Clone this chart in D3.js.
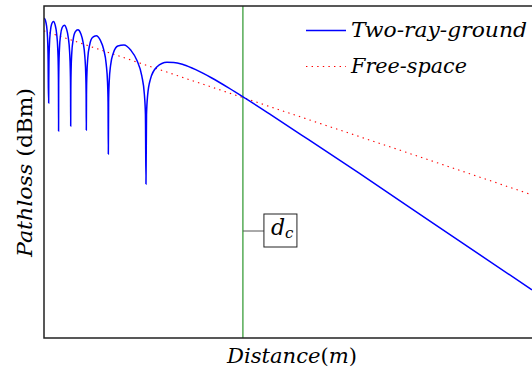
<!DOCTYPE html>
<meta charset="utf-8">
<style>
  body { margin: 0; padding: 0; background: #fff; }
  svg text { font-family: "DejaVu Serif", serif; }
  .it { font-style: italic; }
</style>
<body>
<script src="https://d3js.org/d3.v7.min.js"></script>
<script>

// distance (m) and received power (dBm)
var twoRayDist = [1, 1.00615, 1.0348, 1.0583, 1.0724, 1.0794, 1.0823, 1.09,
  1.0918, 1.0955, 1.1047, 1.1237, 1.1514, 1.1891, 1.2293, 1.2625, 1.2874, 1.3002, 1.3054, 1.308,
  1.3106, 1.3159, 1.3293, 1.3568, 1.3974, 1.4533, 1.5139, 1.5646, 1.6029, 1.6228, 1.6309, 1.635,
  1.6391, 1.6474, 1.6684, 1.712, 1.7772, 1.8686, 1.9699, 2.0566, 2.1234, 2.1584, 2.1728, 2.18,
  2.1873, 2.202, 2.2397, 2.3191, 2.4403, 2.616, 2.819, 3.0, 3.1442, 3.2217, 3.2537, 3.27,
  3.2864, 3.3198, 3.4063, 3.5934, 3.8929, 4.36, 4.9545, 5.5424, 6.0556, 6.3495, 6.4752, 6.54,
  6.606, 6.742, 7.109, 7.976, 9.618, 10.9, 13.08, 16.35, 21.8, 29.73, 40.88, 65.4, 130.8, 327, 1308, 8000];
var twoRayDbm = [-6.05, -6.03, -7.75, -11.89, -18.68, -27.17, -36.73, -46.7,
  -36.8, -27.3, -18.93, -12.41, -8.67, -7.48, -9.24, -13.42, -20.26, -28.79, -38.35, -60.2,
  -38.39, -28.89, -20.54, -14.05, -10.35, -9.23, -11.05, -15.29, -22.17, -30.71, -40.29, -57.8,
  -40.33, -30.84, -22.51, -16.07, -12.44, -11.41, -13.34, -17.66, -24.61, -33.19, -42.78, -59.8,
  -42.84, -33.36, -25.07, -18.7, -15.2, -14.33, -16.45, -20.94, -28.02, -36.67, -46.29, -71.3,
  -46.37, -36.93, -28.71, -22.51, -19.25, -18.77, -21.35, -26.27, -33.71, -42.56, -52.26, -85.8,
  -52.44, -43.09, -35.1, -29.43, -27.11, -27.17, -28.31, -30.69, -34.59, -39.35, -44.55, -52.49, -64.42, -80.31, -104.9, -136.8];

var freeDist = [1, 10, 100, 1000, 8000];
var freeDbm = [-12, -32.2, -52.4, -72.6, -91];

var crossDist = 39; // d_c
var legendNames = ["Two-ray-ground", "Free-space"];

var width = 532, height = 373;
var mLeft = 44, mTop = 6, mBottom = 338, mRight = 532;

var x = d3.scaleLog().domain([1, 8000]).range([mLeft, mRight]);
var y = d3.scaleLinear().domain([0, -160]).range([mTop, mBottom]);

var svg = d3.select("body").append("svg")
  .attr("width", width)
  .attr("height", height);

var line = d3.line()
  .x(function(d) { return x(d[0]); })
  .y(function(d) { return y(d[1]); })
  .curve(d3.curveMonotoneX);

var twoRay = twoRayDist.map(function(d, i) { return [d, twoRayDbm[i]]; });
var free = freeDist.map(function(d, i) { return [d, freeDbm[i]]; });

// d_c marker
svg.append("line")
  .attr("x1", x(crossDist)).attr("x2", x(crossDist))
  .attr("y1", mTop).attr("y2", mBottom)
  .attr("stroke", "#008000").attr("stroke-width", 1);

svg.append("path")
  .attr("d", line(free))
  .attr("fill", "none")
  .attr("stroke", "#ff0000")
  .attr("stroke-width", 1.1)
  .attr("stroke-dasharray", "1.4,4.2");

svg.append("path")
  .attr("d", line(twoRay))
  .attr("fill", "none")
  .attr("stroke", "#0000ff")
  .attr("stroke-width", 1.5);

// frame
svg.append("path")
  .attr("d", "M" + mRight + "," + mTop + "H" + mLeft + "V" + mBottom + "H" + mRight)
  .attr("fill", "none")
  .attr("stroke", "#222")
  .attr("stroke-width", 1.5);

// d_c label
var bx = x(crossDist) + 21, by = 214;
svg.append("line")
  .attr("x1", x(crossDist)).attr("x2", bx)
  .attr("y1", by + 17).attr("y2", by + 17)
  .attr("stroke", "#555").attr("stroke-width", 1);
svg.append("rect")
  .attr("x", bx).attr("y", by)
  .attr("width", 33).attr("height", 33)
  .attr("fill", "#fff").attr("stroke", "#222").attr("stroke-width", 1);
var dc = svg.append("text")
  .attr("x", bx + 7).attr("y", by + 21)
  .attr("class", "it")
  .style("font-size", "22px");
dc.append("tspan").text("d");
dc.append("tspan").attr("dy", 3).style("font-size", "15px").text("c");

// legend
var legY = [30.5, 66.5];
legendNames.forEach(function(name, i) {
  svg.append("line")
    .attr("x1", 306).attr("x2", 346)
    .attr("y1", legY[i]).attr("y2", legY[i])
    .attr("stroke", i == 0 ? "#0000ff" : "#ff0000")
    .attr("stroke-width", i == 0 ? 1.5 : 1.1)
    .attr("stroke-dasharray", i == 0 ? null : "1.4,4.2");
  svg.append("text")
    .attr("class", "it")
    .attr("x", 351).attr("y", legY[i] + 6.5)
    .attr("textLength", i == 0 ? 176 : 116)
    .attr("lengthAdjust", "spacingAndGlyphs")
    .style("font-size", "21px")
    .text(name);
});

// axis titles
var xt = svg.append("text")
  .attr("x", 227).attr("y", 363)
  .attr("textLength", 130)
  .attr("lengthAdjust", "spacingAndGlyphs")
  .style("font-size", "21px");
xt.append("tspan").attr("class", "it").text("Distance");
xt.append("tspan").text("(");
xt.append("tspan").attr("class", "it").text("m");
xt.append("tspan").text(")");

var yt = svg.append("text")
  .attr("transform", "translate(32,257) rotate(-90)")
  .attr("textLength", 169)
  .attr("lengthAdjust", "spacingAndGlyphs")
  .style("font-size", "21px");
yt.append("tspan").attr("class", "it").text("Pathloss");
yt.append("tspan").text(" (dBm)");

</script>
